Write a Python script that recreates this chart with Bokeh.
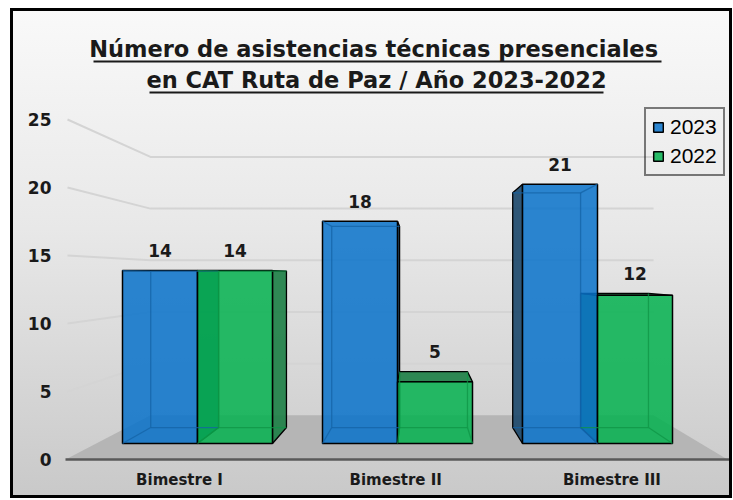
import numpy as np
from bokeh.plotting import figure
from bokeh.models import Range1d, LinearAxis, FixedTicker, Legend, LegendItem
from bokeh.core.properties import value
from bokeh.embed import file_html
from bokeh.resources import INLINE

# ---------------- data ----------------
categories = ["Bimestre I", "Bimestre II", "Bimestre III"]
series_names = ["2023", "2022"]
values_2023 = [14, 18, 21]
values_2022 = [14, 5, 12]
y_ticks = [0, 5, 10, 15, 20, 25]
title_line1 = " Número de asistencias técnicas presenciales"
title_line2 = "en CAT Ruta de Paz / Año 2023-2022"

series_values = [values_2023, values_2022]

# ---------------- style ----------------
front_colors = ["#0872ca", "#04b24f"]
side_colors = ["#1e4a6c", "#1f8048"]
edge_colors = ["#1463a6", "#0f9446"]
FONT = value("DejaVu Sans")
TXT = "#1a1a1a"

BORDER = 3
ORG_X, ORG_Y = 13, 11          # page px of canvas origin
W, H = 716, 484                # canvas size

# page-pixel layout
FRAME_L, FRAME_R, FRAME_B, FRAME_T = 65, ORG_X + W, 459, ORG_Y
CAT_X0, CAT_DX = 197, 200       # page x of first category centre, spacing
BAR_Y0, BAR_PX = 443, 12.35     # page y of bar base, px per unit
AX_Y0, AX_PX = 459, 13.6        # front axis plane
VP = (419, 275)                 # vanishing point (page)
K_BAR = 0.905                   # bar depth
K_WALL = 0.76                   # back wall depth
K_FRONT = 0.925                 # bar front plane vs axis plane
BAR_W = 0.375


def dx(px):
    return (px - CAT_X0) / CAT_DX


def dy(py):
    return (BAR_Y0 - py) / BAR_PX


def persp(px, py, k):
    return VP[0] + (px - VP[0]) * k, VP[1] + (py - VP[1]) * k


p = figure(width=W, height=H, output_backend="svg", toolbar_location=None,
           x_range=Range1d(dx(FRAME_L), dx(FRAME_R)),
           y_range=Range1d(dy(FRAME_B), dy(FRAME_T)),
           min_border_left=FRAME_L - ORG_X, min_border_right=0, min_border_top=0,
           min_border_bottom=ORG_Y + H - FRAME_B,
           x_axis_location=None, y_axis_location=None)
p.grid.visible = False
p.outline_line_color = None
p.background_fill_color = None
p.border_fill_color = None
p.styles = {"box-shadow": "0 0 0 %dpx black" % BORDER,
            "margin-left": "%dpx" % ORG_X, "margin-top": "%dpx" % ORG_Y,
            "background": "linear-gradient(180deg, #f9f9f9 0%, #e8e8e8 45%, #c9c9c9 100%)"}

p.extra_y_ranges = {"front": Range1d((AX_Y0 - FRAME_B) / AX_PX, (AX_Y0 - FRAME_T) / AX_PX)}

# ---------------- floor ----------------
fl = [persp(FRAME_L, AX_Y0, 1.0), persp(727, AX_Y0, 1.0),
      persp(727, AX_Y0, K_WALL), persp(FRAME_L, AX_Y0, K_WALL)]
p.patch([dx(a) for a, b in fl], [dy(b) for a, b in fl], fill_color="#b5b5b5", line_color=None)

# ---------------- gridlines (left wall + back wall) ----------------
gx, gy = [], []
back_right = persp(727, AX_Y0, K_WALL)[0]
for t in y_ticks[1:]:
    fy = AX_Y0 - AX_PX * t
    bx, by = persp(FRAME_L, fy, K_WALL)
    gx.append([dx(FRAME_L + 2), dx(bx), dx(back_right)])
    gy.append([dy(fy), dy(by), dy(by)])
p.multi_line(gx, gy, line_color="#d4d4d4", line_width=2)

# ---------------- bars ----------------
vpx, vpy = dx(VP[0]), dy(VP[1])


def back(pt):
    return (vpx + (pt[0] - vpx) * K_BAR, vpy + (pt[1] - vpy) * K_BAR)


side_xs, side_ys, side_c = [], [], []
inner_xs, inner_ys, inner_c = [], [], []
label_x, label_y, label_t = [], [], []
fronts = []
for s, vals in enumerate(series_values):
    lefts, rights, tops = [], [], []
    for i, v in enumerate(vals):
        x0 = i + (s - 1) * BAR_W
        x1 = x0 + BAR_W
        F = {"bl": (x0, 0), "br": (x1, 0), "tr": (x1, v), "tl": (x0, v)}
        B = {k: back(c) for k, c in F.items()}
        faces = []
        if x0 > vpx:
            faces.append(["bl", "tl"])
        if x1 < vpx:
            faces.append(["br", "tr"])
        if v < vpy:
            faces.append(["tl", "tr"])
        used = set()
        for a, b in faces:
            poly = [F[a], F[b], B[b], B[a]]
            side_xs.append([q[0] for q in poly])
            side_ys.append([q[1] for q in poly])
            side_c.append(side_colors[s])
            used.add(("c", a)); used.add(("c", b)); used.add(("e", a, b)); used.add(("e", b, a))
        # hidden edges seen through the transparent front
        for k in ["bl", "br", "tr", "tl"]:
            if ("c", k) not in used:
                inner_xs.append([F[k][0], B[k][0]]); inner_ys.append([F[k][1], B[k][1]])
                inner_c.append(edge_colors[s])
        for a, b in [("bl", "br"), ("br", "tr"), ("tr", "tl"), ("tl", "bl")]:
            if ("e", a, b) not in used:
                inner_xs.append([B[a][0], B[b][0]]); inner_ys.append([B[a][1], B[b][1]])
                inner_c.append(edge_colors[s])
        lefts.append(x0); rights.append(x1); tops.append(v)
        label_x.append((x0 + x1) / 2)
        label_y.append(max(v, B["tl"][1]))
        label_t.append(str(v))
    fronts.append((lefts, rights, tops))

p.patches(side_xs, side_ys, fill_color=side_c, fill_alpha=0.92, line_color="black", line_width=1.3)

front_renderers = []
for s, (lefts, rights, tops) in enumerate(fronts):
    r = p.quad(left=lefts, right=rights, top=tops, bottom=[0] * len(tops),
               fill_color=front_colors[s], fill_alpha=0.85, line_color="black", line_width=1.5)
    front_renderers.append(r)

p.multi_line(inner_xs, inner_ys, line_color=inner_c, line_alpha=0.75, line_width=1.3)

p.text(x=label_x, y=label_y, text=label_t, text_font=FONT, text_font_style="bold",
       text_font_size="17px", text_align="center", text_baseline="middle",
       y_offset=-20, text_color=TXT)

# ---------------- title ----------------
p.text(x=[dx(377), dx(376)], y=[dy(48.5), dy(79)], text=[title_line1, title_line2],
       text_font=FONT, text_font_style="bold", text_font_size="22.5px",
       text_align="center", text_baseline="middle", text_color=TXT)
p.segment(x0=[dx(93), dx(149)], y0=[dy(61), dy(92)], x1=[dx(661), dx(603)], y1=[dy(61), dy(92)],
          line_color=TXT, line_width=2)

# ---------------- axes ----------------
yax = LinearAxis(y_range_name="front", ticker=FixedTicker(ticks=y_ticks),
                 axis_line_color=None, major_tick_line_color=None, minor_tick_line_color=None,
                 major_tick_out=0, major_tick_in=0, minor_tick_out=0, minor_tick_in=0,
                 major_label_standoff=14, major_label_text_font="DejaVu Sans",
                 major_label_text_font_style="bold", major_label_text_font_size="17px",
                 major_label_text_color=TXT)
p.add_layout(yax, "left")

xticks = [round(vpx + (i - vpx) / K_FRONT, 4) for i in range(len(categories))]
xax = LinearAxis(ticker=FixedTicker(ticks=xticks),
                 major_label_overrides={t: c for t, c in zip(xticks, categories)},
                 axis_line_color="#595959", axis_line_width=2.5,
                 major_tick_line_color=None, minor_tick_line_color=None,
                 major_tick_out=0, major_tick_in=0, minor_tick_out=0, minor_tick_in=0,
                 major_label_standoff=11, major_label_text_font="DejaVu Sans",
                 major_label_text_font_style="bold", major_label_text_font_size="15px",
                 major_label_text_color=TXT)
p.add_layout(xax, "below")

# ---------------- legend ----------------
legend = Legend(items=[LegendItem(label=n, renderers=[r]) for n, r in zip(series_names, front_renderers)],
                location=(644 - FRAME_L, FRAME_B - 176),
                border_line_color="black", border_line_width=2, background_fill_alpha=0,
                label_text_font="Liberation Sans", label_text_font_size="21px",
                label_text_color="black",
                glyph_width=12, glyph_height=12, padding=6, spacing=5, label_standoff=6,
                label_height=22, margin=0)
p.add_layout(legend)

open("out.html", "w").write(file_html(p, INLINE))
